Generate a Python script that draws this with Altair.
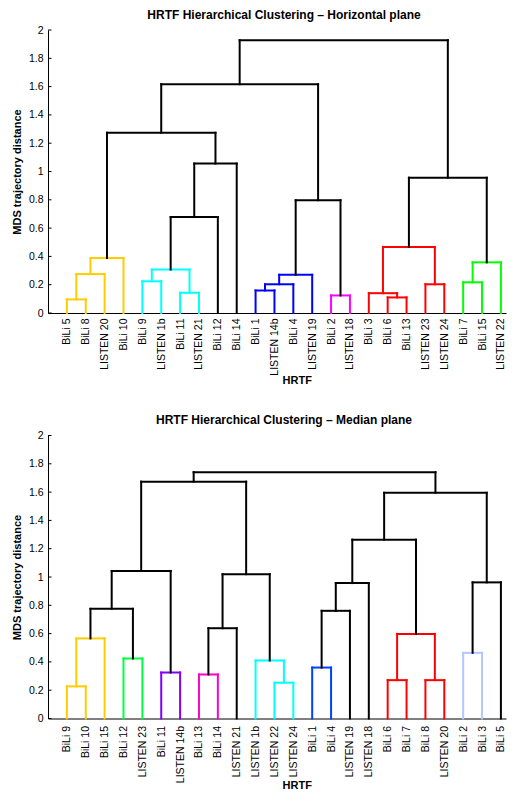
import altair as alt
import pandas as pd

FONT = "Liberation Sans"

top_title = "HRTF Hierarchical Clustering \u2013 Horizontal plane"
bottom_title = "HRTF Hierarchical Clustering \u2013 Median plane"
x_title = "HRTF"
y_title = "MDS trajectory distance"

y_ticks = [0, 0.2, 0.4, 0.6, 0.8, 1.0, 1.2, 1.4, 1.6, 1.8, 2.0]

# ---- Horizontal plane (leaves in display order; ids 1..24 leaves, 25.. merges)
top_leaves = ["BiLi 5", "BiLi 8", "LISTEN 20", "BiLi 10", "BiLi 9", "LISTEN 1b",
              "BiLi 11", "LISTEN 21", "BiLi 12", "BiLi 14", "BiLi 1", "LISTEN 14b",
              "BiLi 4", "LISTEN 19", "BiLi 2", "LISTEN 18", "BiLi 3", "BiLi 6",
              "BiLi 13", "LISTEN 23", "LISTEN 24", "BiLi 7", "BiLi 15", "LISTEN 22"]
top_left = [1, 25, 26, 5, 7, 28, 30, 31, 27, 11, 34, 35, 15, 36, 33, 18, 17, 20, 41, 22, 44, 43, 39]
top_right = [2, 3, 4, 6, 8, 29, 9, 10, 32, 12, 13, 14, 16, 37, 38, 19, 40, 21, 42, 23, 24, 45, 46]
top_height = [0.096, 0.275, 0.388, 0.224, 0.143, 0.307, 0.678, 1.056, 1.274, 0.159, 0.203,
              0.270, 0.124, 0.797, 1.617, 0.110, 0.140, 0.203, 0.467, 0.217, 0.358, 0.956, 1.928]
top_color = ["yellow", "yellow", "yellow", "cyan", "cyan", "cyan", "black", "black", "black",
             "blue", "blue", "blue", "magenta", "black", "black", "red", "red", "red", "red",
             "green", "green", "black", "black"]
top_palette = {"yellow": "#FFCC00", "cyan": "#00FFFF", "blue": "#0000FF", "magenta": "#FF00FF",
               "red": "#FF0000", "green": "#00FF00", "black": "#000000"}

# ---- Median plane
bot_leaves = ["BiLi 9", "BiLi 10", "BiLi 15", "BiLi 12", "LISTEN 23", "BiLi 11", "LISTEN 14b",
              "BiLi 13", "BiLi 14", "LISTEN 21", "LISTEN 1b", "LISTEN 22", "LISTEN 24", "BiLi 1",
              "BiLi 4", "LISTEN 19", "LISTEN 18", "BiLi 6", "BiLi 7", "BiLi 8", "LISTEN 20",
              "BiLi 2", "BiLi 3", "BiLi 5"]
bot_left = [1, 25, 4, 26, 6, 28, 8, 31, 12, 11, 32, 30, 14, 37, 38, 18, 20, 40, 39, 22, 44, 43, 36]
bot_right = [2, 3, 5, 27, 7, 29, 9, 10, 13, 33, 34, 35, 15, 16, 17, 19, 21, 41, 42, 23, 24, 45, 46]
bot_height = [0.227, 0.566, 0.424, 0.775, 0.325, 1.043, 0.311, 0.638, 0.253, 0.410, 1.020,
              1.674, 0.360, 0.761, 0.957, 0.271, 0.271, 0.598, 1.264, 0.464, 0.962, 1.595, 1.741]
bot_color = ["yellow", "yellow", "green", "black", "purple", "black", "magenta", "black", "cyan",
             "cyan", "black", "black", "blue", "black", "black", "red", "red", "red", "black",
             "lightblue", "black", "black", "black"]
bot_palette = {"yellow": "#FFCC00", "green": "#00FF40", "purple": "#8000FF", "magenta": "#FF00CC",
               "cyan": "#00FFFF", "blue": "#0040FF", "red": "#FF0000", "lightblue": "#B3C6FF",
               "black": "#000000"}

X_MAX = 24.27
W = 458
H = 283


def segments(leaves, left, right, height, color, palette):
    n = len(leaves)
    pos = {i + 1: float(i + 1) for i in range(n)}
    hgt = {i + 1: 0.0 for i in range(n)}
    rows = []
    for k, (a, b, h, c) in enumerate(zip(left, right, height, color)):
        node = n + 1 + k
        xa, xb = pos[a], pos[b]
        ya, yb = hgt[a], hgt[b]
        col = palette[c]
        o = 0 if c != "black" else 1
        rows.append(dict(x=xa, x2=xa, y=ya, y2=h, c=col, o=o))
        rows.append(dict(x=xb, x2=xb, y=yb, y2=h, c=col, o=o))
        rows.append(dict(x=xa, x2=xb, y=h, y2=h, c=col, o=o))
        pos[node] = (xa + xb) / 2
        hgt[node] = h
    return pd.DataFrame(rows)


def panel(leaves, left, right, height, color, palette, title, lab_pad, xt_y):
    df = segments(leaves, left, right, height, color, palette)
    label_arr = "[" + ",".join("'" + s + "'" for s in leaves) + "]"
    xscale = alt.Scale(domain=[0, X_MAX], nice=False, zero=False)
    yscale = alt.Scale(domain=[0, 2], nice=False, zero=False)
    xaxis = alt.Axis(values=list(range(1, len(leaves) + 1)),
                     labelExpr=label_arr + "[datum.value - 1]",
                     labelAngle=270, labelAlign="right", labelBaseline="middle",
                     labelPadding=lab_pad, labelOverlap=False, labelBound=False,
                     labelFont=FONT, labelFontSize=10.5, labelColor="#000000",
                     ticks=False, grid=False, domainColor="#000000", domainWidth=1,
                     title=x_title, titleFont=FONT, titleFontSize=11, titleFontWeight="bold",
                     titleColor="#000000", titleX=248.7, titleY=xt_y,
                     titleAlign="center", titleBaseline="middle", titleAngle=0)
    yaxis = alt.Axis(values=y_ticks, format="~g", labelPadding=5,
                     labelOverlap=False, labelFlush=False,
                     labelFont=FONT, labelFontSize=10.5, labelColor="#000000",
                     ticks=False, grid=False, domainColor="#000000", domainWidth=1,
                     title=y_title, titleFont=FONT, titleFontSize=11, titleFontWeight="bold",
                     titleColor="#000000", titleX=-31, titleY=H / 2,
                     titleAngle=270, titleAlign="center", titleBaseline="middle")
    lines = alt.Chart(df).mark_rule(strokeWidth=2, strokeCap="square").encode(
        x=alt.X("x:Q", scale=xscale, axis=xaxis),
        x2="x2:Q",
        y=alt.Y("y:Q", scale=yscale, axis=yaxis),
        y2="y2:Q",
        color=alt.Color("c:N", scale=None),
        order="o:Q",
    )
    ticks = alt.Chart(pd.DataFrame({"v": y_ticks})).mark_rule(
        color="#000000", strokeWidth=1).encode(
        x=alt.value(0), x2=alt.value(3.5),
        y=alt.Y("v:Q", scale=yscale, axis=yaxis),
    )
    return alt.layer(lines, ticks).properties(
        width=W, height=H,
        title=alt.TitleParams(title, font=FONT, fontSize=12, fontWeight="bold",
                              color="#000000", anchor="middle", frame="group",
                              dx=7, offset=-5.5, baseline="alphabetic"),
    )


top = panel(top_leaves, top_left, top_right, top_height, top_color, top_palette,
            top_title, 5, 67)
bottom = panel(bot_leaves, bot_left, bot_right, bot_height, bot_color, bot_palette,
               bottom_title, 7, 67)

chart = alt.vconcat(top, bottom, spacing=28.5).properties(
    padding={"left": 3, "top": 0, "right": 0, "bottom": 0},
    background="#ffffff",
).configure_view(stroke=None)

chart.save("out.html", embed_options={"renderer": "svg", "actions": False})
